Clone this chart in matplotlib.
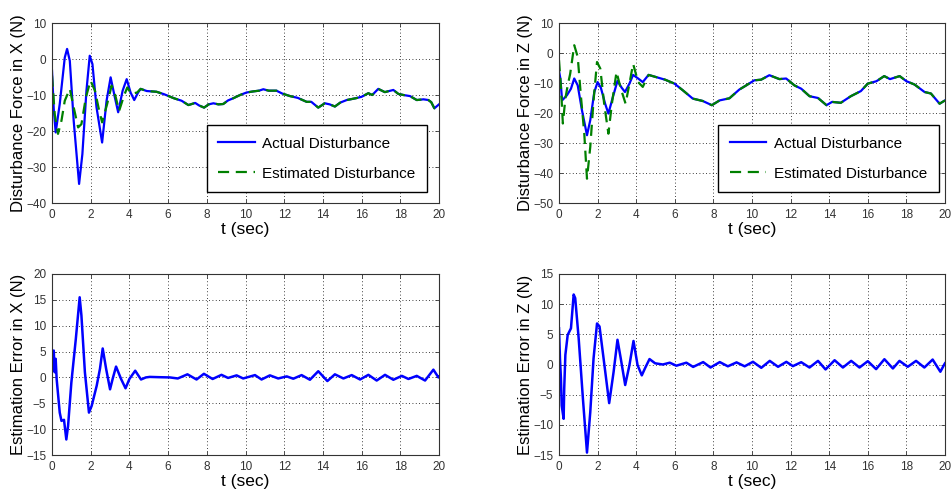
import numpy as np
import matplotlib
matplotlib.use("Agg")
import matplotlib.pyplot as plt

plt.rcParams['font.family'] = ['Liberation Sans', 'DejaVu Sans']

# --- disturbance force in X ---
t_fx_act = [0, 0.09, 0.19, 0.4, 0.66, 0.78, 0.92, 1.12, 1.4, 1.57, 1.78, 1.95, 2.09, 2.3, 2.59,
            2.82, 3.03, 3.25, 3.42, 3.65, 3.86, 4.06, 4.25, 4.45, 4.58]
fx_act = [-3.2, -13.9, -20.4, -12.5, 0.4, 2.8, -0.5, -17.1, -34.7, -26.4, -8.8, 0.9, -1.4, -13.4, -23.2,
          -11.6, -5.1, -10.7, -14.8, -8.8, -5.6, -9.3, -11.4, -9.3, -8.3]
t_fx_est = [0, 0.14, 0.31, 0.49, 0.66, 0.92, 1.12, 1.35, 1.52, 1.75, 1.99, 2.22, 2.44, 2.59, 2.85,
            3.08, 3.25, 3.47, 3.72, 3.89, 4.1, 4.4, 4.58]
fx_est = [-4.6, -15.3, -20.8, -17.1, -11.6, -8.3, -13.4, -19.0, -18.1, -10.7, -6.0, -8.8, -14.4, -17.6, -12.5,
          -7.4, -9.7, -14.4, -10.2, -7.9, -9.7, -9.3, -8.3]
# after ~4.6 s both curves lie on top of each other
t_fx_ss = [4.9, 5.4, 5.8, 6.3, 6.7, 7.05, 7.4, 7.6, 7.86, 8.1, 8.34, 8.6, 8.85, 9.1, 9.37, 9.72,
           10.06, 10.4, 10.7, 10.92, 11.2, 11.6, 11.9, 12.3, 12.7, 13.16, 13.4, 13.76, 14.1, 14.35,
           14.62, 14.9, 15.23, 15.7, 16.0, 16.35, 16.55, 16.86, 17.2, 17.64, 17.9, 18.16, 18.5,
           18.85, 19.2, 19.45, 19.6, 19.76, 20]
fx_ss = [-8.9, -9.1, -9.8, -10.9, -11.6, -12.8, -12.2, -12.9, -13.5, -12.6, -12.3, -12.6, -12.5, -11.5,
         -10.9, -10.0, -9.3, -9.0, -8.8, -8.4, -8.8, -8.8, -9.6, -10.3, -10.8, -11.9, -11.9, -13.5,
         -12.3, -12.6, -13.2, -12.1, -11.4, -10.9, -10.5, -9.5, -10.0, -8.3, -9.2, -8.6, -9.7, -10.0,
         -10.3, -11.4, -11.2, -11.4, -12.0, -13.7, -12.6]

# --- disturbance force in Z ---
t_fz_act = [0, 0.07, 0.16, 0.41, 0.62, 0.79, 0.97, 1.19, 1.45, 1.62, 1.83, 2.0, 2.17, 2.39, 2.56,
            2.79, 3.03, 3.25, 3.42, 3.65, 3.84, 4.1, 4.34, 4.64]
fz_act = [-6.0, -8.5, -15.8, -14.1, -11.9, -8.5, -10.8, -19.1, -27.4, -22.4, -13.0, -9.7, -11.6, -16.9,
          -20.2, -14.7, -9.3, -11.6, -13.0, -10.2, -7.3, -8.5, -9.7, -7.3]
t_fz_est = [0, 0.1, 0.2, 0.33, 0.45, 0.58, 0.79, 0.97, 1.14, 1.31, 1.45, 1.62, 1.79, 1.97, 2.14,
            2.34, 2.56, 2.74, 2.98, 3.19, 3.45, 3.65, 3.84, 4.1, 4.34, 4.64]
fz_est = [-2.4, -11.3, -23.5, -15.2, -10.8, -6.9, 2.6, -1.3, -14.7, -26.9, -41.9, -31.3, -15.8, -3.0,
          -5.2, -16.9, -26.9, -16.9, -6.3, -11.6, -16.9, -10.2, -3.6, -9.7, -11.3, -7.3]
t_fz_ss = [5.07, 5.5, 5.98, 6.41, 6.93, 7.45, 7.92, 8.32, 8.83, 9.34, 9.7, 10.12, 10.47, 10.9, 11.42,
           11.77, 12.2, 12.55, 12.98, 13.42, 13.86, 14.15, 14.6, 15.12, 15.64, 16.0, 16.45, 16.85,
           17.15, 17.65, 18.0, 18.42, 18.94, 19.27, 19.72, 20]
fz_ss = [-8.1, -8.9, -10.2, -12.4, -15.2, -16.0, -17.4, -15.8, -15.1, -12.2, -10.8, -9.1, -8.9, -7.4,
         -8.7, -8.5, -10.8, -11.9, -14.4, -15.0, -17.4, -16.3, -16.6, -14.4, -12.7, -10.2, -9.4, -7.7,
         -8.7, -7.7, -9.4, -10.5, -13.0, -13.5, -16.9, -15.8]

# --- estimation errors ---
t_ex = [0, 0.09, 0.14, 0.19, 0.24, 0.4, 0.49, 0.62, 0.74, 0.83, 1.0, 1.23, 1.43, 1.52, 1.7, 1.91,
        2.05, 2.31, 2.48, 2.62, 2.8, 3.0, 3.14, 3.31, 3.57, 3.8, 4.0, 4.3, 4.6, 4.85, 5.05, 5.5, 6.09,
        6.5, 7.0, 7.47, 7.85, 8.3, 8.76, 9.1, 9.54, 9.88, 10.49, 10.83, 11.26, 11.69, 12.13, 12.47,
        12.9, 13.33, 13.76, 14.23, 14.62, 15.06, 15.49, 15.92, 16.35, 16.78, 17.21, 17.64, 18.08,
        18.42, 18.85, 19.28, 19.71, 19.97, 20]
ex = [1.6, 5.2, 1.0, 3.6, -0.3, -6.8, -8.4, -8.2, -12.0, -9.4, -1.0, 7.4, 15.5, 12.0, 1.0, -6.8,
      -5.5, -1.6, 1.7, 5.6, 1.6, -2.3, -0.2, 2.1, -0.3, -2.1, -0.3, 1.3, -0.4, 0.0, 0.1, 0.05, 0.0,
      -0.2, 0.6, -0.4, 0.7, -0.3, 0.5, -0.1, 0.4, -0.2, 0.45, -0.4, 0.4, -0.2, 0.2, -0.25, 0.45,
      -0.45, 1.2, -0.7, 0.6, -0.2, 0.45, -0.4, 0.5, -0.6, 0.5, -0.45, 0.3, -0.3, 0.3, -0.6, 1.5,
      0.0, 0.1]
t_ez = [0, 0.05, 0.1, 0.14, 0.24, 0.27, 0.33, 0.45, 0.62, 0.76, 0.84, 1.02, 1.24, 1.45, 1.62, 1.79,
        1.97, 2.1, 2.31, 2.6, 2.83, 3.03, 3.2, 3.43, 3.65, 3.86, 4.07, 4.29, 4.46, 4.69, 4.98, 5.38,
        5.74, 6.08, 6.6, 6.95, 7.47, 7.85, 8.33, 8.75, 9.2, 9.62, 10.05, 10.48, 10.92, 11.35, 11.78,
        12.12, 12.55, 12.98, 13.42, 13.81, 14.28, 14.71, 15.14, 15.57, 16.0, 16.43, 16.86, 17.3,
        17.64, 18.07, 18.5, 18.93, 19.36, 19.76, 19.97, 20]
ez = [6.0, 1.0, -2.3, -6.8, -9.0, -4.0, 1.6, 4.9, 6.0, 11.6, 11.0, 4.3, -5.7, -14.6, -7.9, 1.0,
      6.8, 6.3, 1.0, -6.4, -1.2, 4.1, 1.0, -3.4, -0.1, 3.9, -0.1, -1.8, -0.6, 0.9, 0.2, 0.0, 0.3,
      -0.2, 0.3, -0.4, 0.4, -0.5, 0.4, -0.3, 0.35, -0.3, 0.45, -0.55, 0.6, -0.38, 0.44, -0.27, 0.38,
      -0.5, 0.6, -0.82, 0.71, -0.5, 0.6, -0.5, 0.55, -0.77, 0.88, -0.66, 0.6, -0.38, 0.6, -0.5, 0.82,
      -1.2, 0.05, 0.2]

x_ticks = list(range(0, 21, 2))
BLUE = (0, 0, 1)
GREEN = (0, 0.5, 0)


def style_ax(ax, ylim, ystep, ylabel):
    ax.set_xlim(0, 20)
    ax.set_ylim(*ylim)
    ax.set_xticks(x_ticks)
    ax.set_yticks(np.arange(ylim[0], ylim[1] + 0.1, ystep))
    ax.grid(True, color='black', linestyle=(0, (1, 3)), linewidth=0.6)
    ax.tick_params(direction='in', top=True, right=True, labelsize=8.5, colors='#333333',
                   length=3, width=0.6, pad=4)
    for s in ax.spines.values():
        s.set_linewidth(0.8)
        s.set_color('#333333')
    ax.set_xlabel('t (sec)', fontsize=12.5, labelpad=1)
    ax.set_ylabel(ylabel, fontsize=12, labelpad=0)


fig = plt.figure(figsize=(9.51, 4.97), dpi=100)
W, H = 951, 497


def add_ax(x0, x1, ytop, ybot):
    return fig.add_axes([x0 / W, 1 - ybot / H, (x1 - x0) / W, (ybot - ytop) / H])


ax1 = add_ax(52, 439, 23, 203)
ax2 = add_ax(559, 945, 23, 203)
ax3 = add_ax(52, 439, 274, 455)
ax4 = add_ax(559, 945, 274, 455)

leg_kw = dict(loc='lower right', borderaxespad=0, fancybox=False, edgecolor='black', framealpha=1,
              fontsize=11, handlelength=2.4, labelspacing=1.05, borderpad=0.75, handletextpad=0.5)

ax1.plot(t_fx_act + t_fx_ss, fx_act + fx_ss, color=BLUE, lw=1.6, label='Actual Disturbance')
ax1.plot(t_fx_est + t_fx_ss, fx_est + fx_ss, color=GREEN, lw=1.6, ls=(0, (5, 3)), label='Estimated Disturbance')
style_ax(ax1, (-40, 10), 10, 'Disturbance Force in X (N)')
ax1.legend(bbox_to_anchor=(0.969, 0.061), **leg_kw)

ax2.plot(t_fz_act + t_fz_ss, fz_act + fz_ss, color=BLUE, lw=1.6, label='Actual Disturbance')
ax2.plot(t_fz_est + t_fz_ss, fz_est + fz_ss, color=GREEN, lw=1.6, ls=(0, (5, 3)), label='Estimated Disturbance')
style_ax(ax2, (-50, 10), 10, 'Disturbance Force in Z (N)')
ax2.legend(bbox_to_anchor=(0.984, 0.061), **leg_kw)

ax3.plot(t_ex, ex, color=BLUE, lw=1.8)
style_ax(ax3, (-15, 20), 5, 'Estimation Error in X (N)')

ax4.plot(t_ez, ez, color=BLUE, lw=1.8)
style_ax(ax4, (-15, 15), 5, 'Estimation Error in Z (N)')

fig.savefig('out.png', dpi=100)
